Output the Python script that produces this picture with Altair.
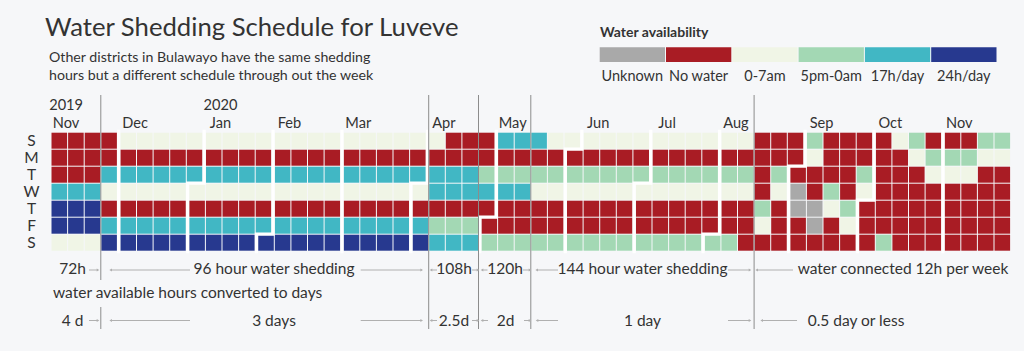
import datetime as dt
import altair as alt
import pandas as pd

# ---------------- data ----------------
START = dt.date(2019, 11, 3)          # first Sunday column of the calendar
day_labels = ["S", "M", "T", "W", "T", "F", "S"]
codes = ["U", "N", "A", "P", "H", "D"]
categories = ["Unknown", "No water", "0-7am", "5pm-0am", "17h/day", "24h/day"]
colors = ["#a9a9a9", "#a91c24", "#f0f5e6", "#a3d8b4", "#41b7c4", "#27398f"]

# one string per week column, days Sun..Sat
week_codes = [
    "NNNHDDA", "NNNHDDA", "NNNHDDA", "NNHANHD",
    "ANHANHD", "ANHANHD", "ANHANHD", "ANHANHD", "ANHANHD",
    "ANHANHD", "ANHANHD", "ANHANHD", "ANHANHD",
    "ANHANHD", "ANHANHD", "ANHANHD", "ANHANHD",
    "ANHANHD", "ANHANHD", "ANHANHD", "ANHANHD", "ANHANHD",
    "ANHHNPH", "NNHHNPH", "NNHHNPH", "NNPHNNP",
    "HNPHNNP", "HNPHNNP", "HNPANNP", "ANPANNP", "ANPANNP",
    "ANPANNP", "ANPANNP", "ANPANNP", "ANPANNP",
    "ANPANNP", "ANPANNP", "ANPANNP", "ANPANNP",
    "ANPANNP", "ANPANNN", "NNNNPAN", "NNPANNN", "NNNUUNN",
    "PANNUUN", "NNNPANN", "NNNNPAN", "NNPANNN",
    "NNNNNNP", "ANNNNNN", "PANNNNN", "NPANNNN",
    "NPANNNN", "NPANNNN", "PANNNNN", "PANNNNN",
]
month_names = ["Nov", "Dec", "Jan", "Feb", "Mar", "Apr", "May", "Jun",
               "Jul", "Aug", "Sep", "Oct", "Nov"]
year_labels = {0: "2019", 2: "2020"}
period_weeks = [3, 22, 25, 28, 41]     # week columns where a new regime starts

# ---------------- layout ----------------
FONT = "Lato"
TXT = "#333333"
X0, S, G = 51.5, 16.6, 2.5
GU = G / S
CW = (S - 1) / S
Y0, RS = 132.7, 17.0
CH = 16.0 / RS


def ux(px):
    return (px - X0) / S


def vy(py):
    return (py - Y0) / RS


def month_index(d):
    return (d.year - 2019) * 12 + d.month - 11


xs = alt.Scale(domain=[ux(0), ux(1024)], range=[0, 1024], nice=False, zero=False)
ys = alt.Scale(domain=[vy(0), vy(351)], range=[0, 351], nice=False, zero=False)
cs = alt.Scale(domain=categories, range=colors)
code2cat = dict(zip(codes, categories))

# cells
rows = []
for w, wk in enumerate(week_codes):
    for r, c in enumerate(wk):
        d = START + dt.timedelta(days=7 * w + r)
        m = month_index(d)
        u = w + m * GU
        rows.append(dict(u=u, u2=u + CW, v=r, v2=r + CH, cat=code2cat[c],
                         date=d.isoformat()))
cells = pd.DataFrame(rows)

X = lambda f="u": alt.X(f"{f}:Q", scale=xs, axis=None)
Y = lambda f="v": alt.Y(f"{f}:Q", scale=ys, axis=None)

cell_layer = alt.Chart(cells).mark_rect().encode(
    x=X(), x2="u2:Q", y=Y(), y2="v2:Q",
    color=alt.Color("cat:N", scale=cs, legend=None),
)

# month boundary white paths
pts = []
for m in range(1, 13):
    yr, mo = (2019, 11 + m) if m <= 1 else (2020, m - 1)
    d0 = dt.date(yr, mo, 1)
    w0 = (d0 - START).days // 7
    r0 = (d0.weekday() + 1) % 7
    xc = lambda w: w + (m - 0.5) * GU - (1 - CW) / 2
    top, bot = -0.08, 7.0
    if r0 == 0:
        seq = [(xc(w0), top), (xc(w0), bot)]
    else:
        ym = r0 - (1 - CH) / 2
        seq = [(xc(w0 + 1), top), (xc(w0 + 1), ym), (xc(w0), ym), (xc(w0), bot)]
    for k, (a, b) in enumerate(seq):
        pts.append(dict(mi=m, k=k, u=a, v=b))
mlines = alt.Chart(pd.DataFrame(pts)).mark_line(
    color="white", strokeWidth=3.2, strokeJoin="miter", strokeCap="square"
).encode(x=X(), y=Y(), detail="mi:N", order="k:Q")

# period separator lines
plines = []
for w in period_weeks:
    d = START + dt.timedelta(days=7 * w)
    u = w + month_index(d) * GU - (1 - CW) / 2
    if w == 3:
        plines += [dict(u=u, v=vy(95), v2=vy(280)), dict(u=u, v=vy(307), v2=vy(329))]
    else:
        plines.append(dict(u=u, v=vy(95), v2=vy(329)))
pline_layer = alt.Chart(pd.DataFrame(plines)).mark_rule(
    color="#8c8c8c", strokeWidth=1).encode(x=X(), y=Y(), y2="v2:Q")

# month labels
ml = []
for m, name in enumerate(month_names):
    w = next(i for i in range(len(week_codes))
             if month_index(START + dt.timedelta(days=7 * i)) == m)
    u = w + m * GU + 0.88
    ml.append(dict(u=u, v=vy(127.5), t=name))
    if m in year_labels:
        ml.append(dict(u=u, v=vy(109.6), t=year_labels[m]))
mlabel_layer = alt.Chart(pd.DataFrame(ml)).mark_text(
    font=FONT, fontSize=14.6, color=TXT, align="center", baseline="alphabetic"
).encode(x=X(), y=Y(), text="t:N")

# row labels
rl = pd.DataFrame(dict(u=[ux(31.5)] * 7, v=[r + CH / 2 for r in range(7)],
                       t=day_labels))
rlabel_layer = alt.Chart(rl).mark_text(
    font=FONT, fontSize=15.5, color=TXT, align="center", baseline="middle"
).encode(x=X(), y=Y(), text="t:N")


def text_layer(items, **kw):
    df = pd.DataFrame(items, columns=["px", "py", "t"])
    df["u"] = df.px.map(ux)
    df["v"] = df.py.map(vy)
    base = dict(font=FONT, color=TXT)
    base.update(kw)
    return alt.Chart(df).mark_text(**base).encode(x=X(), y=Y(), text="t:N")


title_layer = text_layer([(45, 36, "Water Shedding Schedule for Luveve")],
                         fontSize=25.7, align="left", baseline="alphabetic")
sub_layer = text_layer([(49, 62, "Other districts in Bulawayo have the same shedding"),
                        (49, 80, "hours but a different schedule through out the week")],
                       fontSize=14.2, align="left", baseline="alphabetic")

ann_center = text_layer([
    (274, 269, "96 hour water shedding"), (454, 269, "108h"), (505, 269, "120h"),
    (642.5, 269, "144 hour water shedding"), (903, 269, "water connected 12h per week"),
    (274, 321, "3 days"), (454, 321, "2.5d"), (505.5, 321, "2d"),
    (642.5, 321, "1 day"), (856, 321, "0.5 day or less"),
], fontSize=15.5, align="center", baseline="middle")
ann_right = text_layer([(86, 269, "72h"), (83.5, 321, "4 d")],
                       fontSize=15.5, align="right", baseline="middle")
ann_left = text_layer([(53, 293, "water available hours converted to days")],
                      fontSize=15.5, align="left", baseline="middle")

# arrows
arrows = [
    (89, 98, 270, "R"), (110.7, 190, 270, "L"), (360.7, 421.7, 270, "R"),
    (431, 437, 270, "L"), (472, 478, 270, "R"), (482, 487.5, 270, "L"),
    (523, 530, 270, "R"), (536.7, 558, 270, "L"), (728, 750, 270, "R"),
    (756.7, 793, 270, "L"),
    (89, 98, 320.5, "R"), (110.7, 190, 320.5, "L"), (360.7, 421.7, 320.5, "R"),
    (431, 437, 320.5, "L"), (472, 478, 320.5, "R"), (482, 488, 320.5, "L"),
    (524, 530, 320.5, "R"), (537, 558, 320.5, "L"), (728, 750, 320.5, "R"),
    (761.7, 797, 320.5, "L"),
]
adf = pd.DataFrame(arrows, columns=["a", "b", "py", "h"])
adf["u"] = adf.a.map(ux)
adf["u2"] = adf.b.map(ux)
adf["v"] = adf.py.map(vy)
adf["hu"] = [ux(b) if h == "R" else ux(a) for a, b, h in zip(adf.a, adf.b, adf.h)]
adf["shape"] = ["triangle-right" if h == "R" else "triangle-left" for h in adf.h]
arrow_rules = alt.Chart(adf).mark_rule(color="#b0b0b0", strokeWidth=1).encode(
    x=X(), x2="u2:Q", y=Y())
arrow_heads = alt.Chart(adf).mark_point(filled=True, size=9, color="#b0b0b0",
                                        opacity=1).encode(
    x=X("hu"), y=Y(), shape=alt.Shape("shape:N", scale=None))

# legend
lg = pd.DataFrame(dict(cat=categories, i=list(range(6))))
lg["u"] = [ux(599.7 + 66.3 * i) for i in lg.i]
lg["u2"] = [ux(599.7 + 66.3 * i + 65.3) for i in lg.i]
lg["uc"] = [ux(599.7 + 66.3 * i + 32.6) for i in lg.i]
lg["v"] = vy(47.3)
lg["v2"] = vy(62)
lg["vt"] = vy(77)
legend_sw = alt.Chart(lg).mark_rect().encode(
    x=X(), x2="u2:Q", y=Y(), y2="v2:Q", color=alt.Color("cat:N", scale=cs, legend=None))
legend_tx = alt.Chart(lg).mark_text(font=FONT, fontSize=14.5, color=TXT,
                                    align="center", baseline="middle").encode(
    x=X("uc"), y=Y("vt"), text="cat:N")
legend_title = text_layer([(600, 37, "Water availability")], fontSize=14,
                          fontWeight="bold", align="left", baseline="alphabetic")

chart = alt.layer(
    cell_layer, mlines, pline_layer, mlabel_layer, rlabel_layer,
    title_layer, sub_layer, ann_center, ann_right, ann_left,
    arrow_rules, arrow_heads, legend_sw, legend_tx, legend_title,
).properties(
    width=1024, height=351, background="#f6f7f9", padding=0,
    autosize=alt.AutoSizeParams(type="none"),
).configure_view(strokeWidth=0)

chart.save("out.html", embed_options={"renderer": "svg", "actions": False})
